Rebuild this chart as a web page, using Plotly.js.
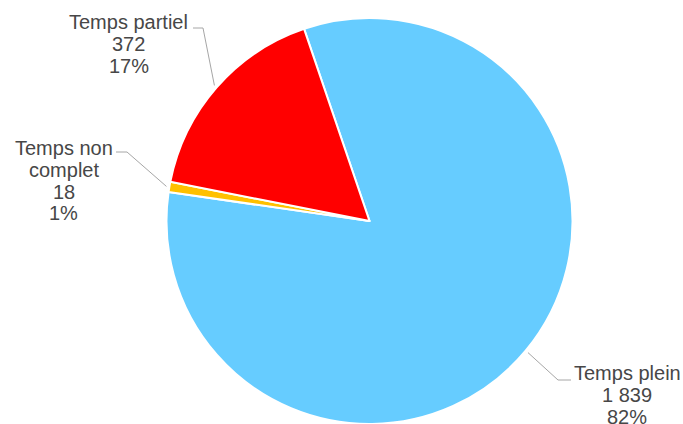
<!DOCTYPE html>
<html><head><meta charset="utf-8">
<script src="https://cdn.plot.ly/plotly-3.0.1.min.js"></script>
<style>html,body{margin:0;padding:0;overflow:hidden;background:#fff}</style>
</head><body><div id="chart" style="width:683px;height:424px"></div>
<script>
// ---- data ----
const categories = ['Temps plein', 'Temps non complet', 'Temps partiel'];
const values = [1839, 18, 372];
const valueLabels = ['1 839', '18', '372'];
const percentLabels = ['82%', '1%', '17%'];
const nameLines = [['Temps plein'], ['Temps non', 'complet'], ['Temps partiel']];
const colors = ['#66CCFF', '#FFC000', '#FF0000'];

// ---- layout constants (pixels) ----
const W = 683, H = 424;
const CX = 369.5, CY = 221, R = 203;
const ROT = -18.8;
const FS = 20, PITCH = 21.8;
const TEXT_COLOR = '#474747', LINE_COLOR = '#A6A6A6';
// label placement: text centre x, first baseline y, elbow point, line end
const labelPos = [
  {tx: 627, base: 380, elbow: [558, 380], end: [571, 380]},
  {tx: 63.5, base: 155, elbow: [127, 152], end: [116, 152]},
  {tx: 128.5, base: 29, elbow: [203, 28], end: [193, 28]}
];

const px = x => x / W;
const py = y => 1 - y / H;

const total = values.reduce((a, b) => a + b, 0);
const annotations = [];
const shapes = [];
let cum = 0;
values.forEach((v, i) => {
  const mid = (ROT + (cum + v / 2) / total * 360) * Math.PI / 180;
  cum += v;
  const ex = CX + (R + 3) * Math.sin(mid);
  const ey = CY - (R + 3) * Math.cos(mid);
  const lp = labelPos[i];
  shapes.push({
    type: 'path', xref: 'paper', yref: 'paper',
    path: `M ${px(ex)} ${py(ey)} L ${px(lp.elbow[0])} ${py(lp.elbow[1])} L ${px(lp.end[0])} ${py(lp.end[1])}`,
    line: {color: LINE_COLOR, width: 1}
  });
  const lines = nameLines[i].concat([valueLabels[i], percentLabels[i]]);
  lines.forEach((t, k) => {
    annotations.push({
      text: t, xref: 'paper', yref: 'paper',
      x: px(lp.tx), y: py(lp.base + k * PITCH - 0.35 * FS),
      xanchor: 'center', yanchor: 'middle', showarrow: false,
      font: {family: 'Liberation Sans, Arial, sans-serif', size: FS, color: TEXT_COLOR}
    });
  });
});

const trace = {
  type: 'pie',
  labels: categories,
  values: values,
  sort: false,
  direction: 'clockwise',
  rotation: ROT,
  textinfo: 'none',
  hoverinfo: 'skip',
  showlegend: false,
  marker: {colors: colors, line: {color: '#FFFFFF', width: 2}},
  domain: {x: [px(CX - R), px(CX + R)], y: [0, 2 * R / H]}
};

Plotly.newPlot('chart', [trace], {
  width: W, height: H,
  margin: {l: 0, r: 0, t: 0, b: 0},
  paper_bgcolor: '#FFFFFF',
  showlegend: false,
  annotations: annotations,
  shapes: shapes
}, {displayModeBar: false, staticPlot: true});
</script></body></html>
